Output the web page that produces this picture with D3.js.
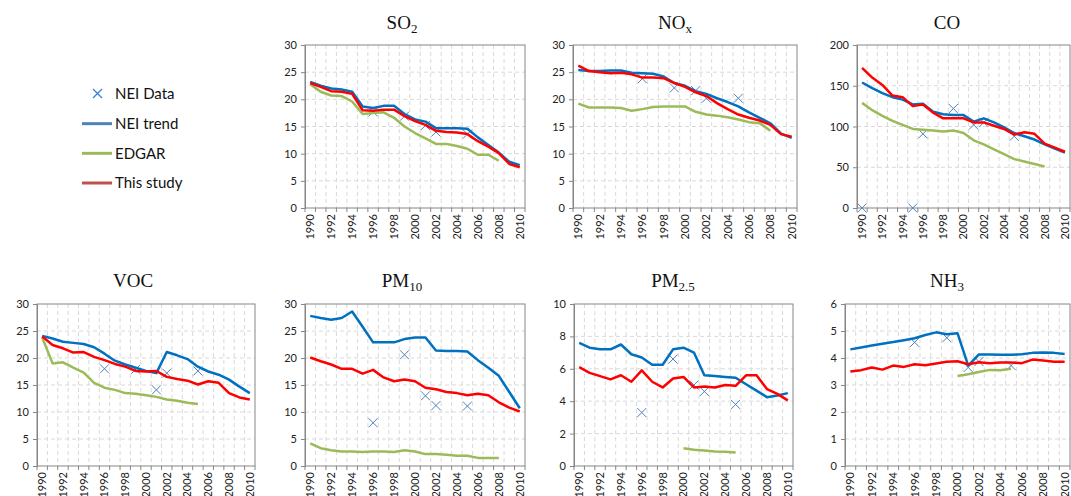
<!DOCTYPE html>
<meta charset="utf-8">
<style>
body { margin: 0; background: #fff; }
.tick text { font-family: Lato, "Liberation Sans", sans-serif; font-size: 11px; fill: #222; }
.grid { stroke: #d9d9d9; stroke-width: 1; stroke-dasharray: 4,3; }
.frame { fill: none; stroke: #868686; stroke-width: 1; }
.title { font-family: "Liberation Serif", serif; font-size: 19px; fill: #111; }
.legend text { font-family: Lato, "Liberation Sans", sans-serif; font-size: 15px; fill: #111; }
</style>
<svg width="1071" height="496"></svg>
<script src="https://cdn.jsdelivr.net/npm/d3@7"></script>
<script>

var years = [1990,1991,1992,1993,1994,1995,1996,1997,1998,1999,2000,
             2001,2002,2003,2004,2005,2006,2007,2008,2009,2010];
var yearLabels = [1990,1992,1994,1996,1998,2000,2002,2004,2006,2008,2010];
var _ = null;

// SO2
var so2Trend = [23.2,22.5,22.0,21.8,21.4,18.7,18.4,18.8,18.8,17.3,16.3,15.9,14.7,14.7,14.7,14.6,13.0,11.6,10.2,8.5,7.9];
var so2Study = [23.0,22.3,21.5,21.4,21.0,18.0,17.9,18.1,18.1,16.9,16.0,15.3,14.2,14.0,13.9,13.6,12.3,11.3,10.1,8.1,7.5];
var so2Edgar = [22.8,21.4,20.7,20.6,19.6,17.3,17.5,17.6,16.6,15.0,13.8,12.8,11.8,11.8,11.4,10.9,9.8,9.8,8.7,_,_];
var so2Nei   = [_,_,_,_,_,_,17.7,_,_,16.9,_,15.2,14.0,_,_,13.6,_,_,_,_,_];

// NOx
var noxTrend = [25.4,25.2,25.2,25.3,25.3,24.9,24.8,24.7,24.2,23.0,22.5,21.5,21.0,20.2,19.5,18.7,17.6,16.6,15.6,13.7,12.9];
var noxStudy = [26.2,25.2,25.0,24.8,24.9,24.6,24.0,24.0,23.9,23.0,22.3,21.3,20.6,19.3,18.2,17.2,16.6,16.1,15.3,13.6,13.1];
var noxEdgar = [19.2,18.5,18.5,18.5,18.4,17.9,18.2,18.6,18.7,18.7,18.7,17.7,17.2,17.0,16.7,16.3,15.8,15.6,14.2,_,_];
var noxNei   = [_,_,_,_,_,_,23.8,_,_,22.1,_,21.6,20.2,_,_,20.2,_,_,_,_,_];

// CO
var coTrend = [154,147,141,136,133,127,128,118,115,114,114,106,110,105,99,92,88,84,78,73,68];
var coStudy = [172,160,151,138,136,125,127,117,110,110,110,105,105,101,97,90,93,91,79,74,69];
var coEdgar = [129,120,113,107,102,97,96,95,94,95,92,83,78,72,66,60,57,54,51,_,_];
var coNei   = [0,_,_,_,_,0,91,_,_,122,_,102,105,_,_,88,_,_,_,_,_];

// VOC
var vocTrend = [24.1,23.6,23.0,22.8,22.6,22.0,20.8,19.5,18.8,18.2,17.6,17.2,21.1,20.5,19.8,18.4,17.5,16.9,16.0,14.7,13.5];
var vocStudy = [24.0,22.4,21.8,21.0,21.1,20.2,19.6,18.9,18.4,17.6,17.5,17.6,16.5,16.1,15.8,15.1,15.7,15.4,13.5,12.7,12.3];
var vocEdgar = [23.8,19.0,19.2,18.2,17.3,15.4,14.5,14.1,13.5,13.4,13.1,12.8,12.3,12.1,11.7,11.5,_,_,_,_,_];
var vocNei   = [_,_,_,_,_,_,18.0,_,_,17.9,_,14.1,17.2,_,_,17.6,_,_,_,_,_];

// PM10
var pm10Trend = [27.8,27.4,27.1,27.4,28.6,25.8,22.9,22.9,22.9,23.5,23.8,23.8,21.4,21.3,21.3,21.2,19.6,18.2,16.7,13.7,10.7];
var pm10Study = [20.1,19.4,18.8,18.0,18.0,17.1,17.8,16.4,15.7,16.0,15.7,14.5,14.2,13.7,13.5,13.1,13.4,13.1,11.8,10.8,10.1];
var pm10Edgar = [4.2,3.3,2.9,2.7,2.7,2.6,2.7,2.7,2.6,2.9,2.7,2.2,2.2,2.1,1.9,1.9,1.5,1.5,1.5,_,_];
var pm10Nei   = [_,_,_,_,_,_,8.0,_,_,20.6,_,13.0,11.2,_,_,11.1,_,_,_,_,_];

// PM2.5
var pm25Trend = [7.6,7.3,7.2,7.2,7.5,6.9,6.7,6.25,6.25,7.2,7.3,7.0,5.6,5.55,5.5,5.45,5.05,4.65,4.25,4.35,4.5];
var pm25Study = [6.1,5.75,5.55,5.35,5.6,5.2,5.9,5.2,4.85,5.4,5.5,4.85,4.9,4.85,5.0,4.95,5.6,5.6,4.75,4.45,4.05];
var pm25Edgar = [_,_,_,_,_,_,_,_,_,_,1.1,1.0,0.95,0.9,0.88,0.83,_,_,_,_,_];
var pm25Nei   = [_,_,_,_,_,_,3.3,_,_,6.6,_,5.0,4.6,_,_,3.8,_,_,_,_,_];

// NH3
var nh3Trend = [4.32,4.39,4.46,4.53,4.59,4.66,4.73,4.85,4.95,4.88,4.92,3.72,4.13,4.13,4.12,4.12,4.14,4.19,4.2,4.19,4.15];
var nh3Study = [3.5,3.55,3.65,3.57,3.72,3.67,3.77,3.73,3.8,3.86,3.88,3.77,3.84,3.81,3.83,3.83,3.81,3.94,3.91,3.86,3.86];
var nh3Edgar = [_,_,_,_,_,_,_,_,_,_,3.33,3.4,3.48,3.56,3.55,3.6,_,_,_,_,_];
var nh3Nei   = [_,_,_,_,_,_,4.58,_,_,4.75,_,3.65,3.87,_,_,3.72,_,_,_,_,_];

var seriesNames = ["NEI Data", "NEI trend", "EDGAR", "This study"];

var lineColor = { trend: "#0070C0", edgar: "#9BBB59", study: "#FF0000" };
var legendColor = { nei: "#3a7fd4", trend: "#4F81BD", edgar: "#9BBB59", study: "#C0504D" };

var panels = [
  { name: "SO", sub: "2",   tx: 402, ty: 29,  left: 305, top: 45,  right: 525,  bottom: 208, max: 30,  step: 5,  trend: so2Trend,  study: so2Study,  edgar: so2Edgar,  nei: so2Nei },
  { name: "NO", sub: "x",   tx: 675, ty: 29,  left: 573, top: 45,  right: 797,  bottom: 208, max: 30,  step: 5,  trend: noxTrend,  study: noxStudy,  edgar: noxEdgar,  nei: noxNei },
  { name: "CO", sub: "",    tx: 947, ty: 29,  left: 857, top: 45,  right: 1070, bottom: 208, max: 200, step: 50, trend: coTrend,   study: coStudy,   edgar: coEdgar,   nei: coNei },
  { name: "VOC", sub: "",   tx: 133, ty: 287, left: 37,  top: 304, right: 255,  bottom: 466, max: 30,  step: 5,  trend: vocTrend,  study: vocStudy,  edgar: vocEdgar,  nei: vocNei },
  { name: "PM", sub: "10",  tx: 402, ty: 287, left: 305, top: 304, right: 525,  bottom: 466, max: 30,  step: 5,  trend: pm10Trend, study: pm10Study, edgar: pm10Edgar, nei: pm10Nei },
  { name: "PM", sub: "2.5", tx: 673, ty: 287, left: 574, top: 304, right: 793,  bottom: 466, max: 10,  step: 2,  trend: pm25Trend, study: pm25Study, edgar: pm25Edgar, nei: pm25Nei },
  { name: "NH", sub: "3",   tx: 947, ty: 287, left: 845, top: 304, right: 1070, bottom: 466, max: 6,   step: 1,  trend: nh3Trend,  study: nh3Study,  edgar: nh3Edgar,  nei: nh3Nei }
];

var svg = d3.select("svg");

panels.forEach(function(p) {
  var w = p.right - p.left,
      h = p.bottom - p.top;

  var x = d3.scaleBand().domain(years).range([0, w]);
  var y = d3.scaleLinear().domain([0, p.max]).range([h, 0]);
  var cx = function(yr) { return x(yr) + x.bandwidth() / 2; };

  var g = svg.append("g").attr("transform", "translate(" + p.left + "," + p.top + ")");

  // title with subscript
  var t = svg.append("text").attr("class", "title")
    .attr("x", p.tx).attr("y", p.ty).attr("text-anchor", "middle");
  t.append("tspan").text(p.name);
  if (p.sub) t.append("tspan").attr("dy", 4).style("font-size", "13px").text(p.sub);

  var yTicks = d3.range(0, p.max + p.step / 2, p.step);

  // gridlines
  g.selectAll(".hgrid").data(yTicks.slice(1, -1)).enter().append("line")
    .attr("class", "grid")
    .attr("x1", 0).attr("x2", w)
    .attr("y1", function(d) { return y(d); }).attr("y2", function(d) { return y(d); });
  g.selectAll(".vgrid").data(years.slice(1)).enter().append("line")
    .attr("class", "grid")
    .attr("x1", function(d) { return x(d); }).attr("x2", function(d) { return x(d); })
    .attr("y1", 0).attr("y2", h);

  g.append("rect").attr("class", "frame").attr("width", w).attr("height", h);

  // y axis
  var ya = g.append("g")
    .call(d3.axisLeft(y).tickValues(yTicks).tickSize(4).tickPadding(4).tickFormat(d3.format("d")));
  ya.select(".domain").attr("stroke", "#868686");
  ya.selectAll(".tick line").attr("stroke", "#868686");

  // x axis ticks at category boundaries
  var edges = years.map(function(d) { return x(d); }).concat([w]);
  g.selectAll(".xtick").data(edges).enter().append("line")
    .attr("x1", function(d) { return d; }).attr("x2", function(d) { return d; })
    .attr("y1", h).attr("y2", h + 4).attr("stroke", "#868686");

  g.selectAll(".xlab").data(yearLabels).enter().append("text")
    .attr("transform", function(d) { return "translate(" + cx(d) + "," + (h + 6) + ") rotate(-90)"; })
    .attr("text-anchor", "end").attr("dy", "0.35em")
    .style("font-family", "Lato, 'Liberation Sans', sans-serif").style("font-size", "11px").style("fill", "#222")
    .text(function(d) { return d; });

  // NEI data markers
  var neiPts = years.map(function(yr, i) { return { yr: yr, v: p.nei[i] }; })
    .filter(function(d) { return d.v !== null; });
  g.selectAll(".nei").data(neiPts).enter().append("path")
    .attr("transform", function(d) { return "translate(" + cx(d.yr) + "," + y(d.v) + ")"; })
    .attr("d", "M-4.5,-4.5L4.5,4.5M-4.5,4.5L4.5,-4.5")
    .attr("stroke", "#4F81BD").attr("stroke-width", 1).attr("fill", "none");

  var line = d3.line()
    .defined(function(d) { return d !== null; })
    .x(function(d, i) { return cx(years[i]); })
    .y(function(d) { return y(d); });

  ["edgar", "trend", "study"].forEach(function(k) {
    g.append("path").datum(p[k])
      .attr("d", line)
      .attr("fill", "none")
      .attr("stroke", lineColor[k])
      .attr("stroke-width", 2.5)
      .attr("stroke-linejoin", "round");
  });
});

// legend
var lg = svg.append("g").attr("class", "legend");
var legendKeys = ["nei", "trend", "edgar", "study"];
var ly = d3.scalePoint().domain(legendKeys).range([94, 183]);
legendKeys.forEach(function(k, i) {
  var yy = ly(k);
  if (k === "nei") {
    lg.append("path")
      .attr("d", "M93,89L102,98M93,98L102,89")
      .attr("stroke", legendColor.nei).attr("stroke-width", 1.3).attr("fill", "none");
  } else {
    lg.append("line").attr("x1", 82).attr("x2", 112).attr("y1", yy).attr("y2", yy)
      .attr("stroke", legendColor[k]).attr("stroke-width", 3);
  }
  lg.append("text").attr("x", 115).attr("y", yy).attr("dy", "0.35em").text(seriesNames[i]);
});

</script>
